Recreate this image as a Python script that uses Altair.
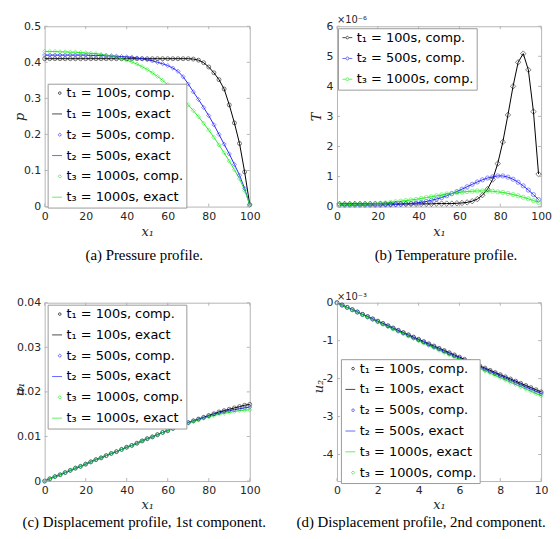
import altair as alt
import pandas as pd

# ---------------- data ----------------
XA = [0, 2.5, 5, 7.5, 10, 12.5, 15, 17.5, 20, 22.5, 25, 27.5, 30, 32.5, 35, 37.5, 40,
      42.5, 45, 47.5, 50, 52.5, 55, 57.5, 60, 62.5, 65, 67.5, 70, 72.5, 75, 77.5, 80,
      82.5, 85, 87.5, 90, 92.5, 95, 97.5, 100]

P_T1 = [0.41, 0.41, 0.41, 0.41, 0.41, 0.41, 0.41, 0.41, 0.41, 0.41, 0.41, 0.41, 0.41,
        0.41, 0.41, 0.41, 0.41, 0.41, 0.41, 0.41, 0.41, 0.41, 0.41, 0.41, 0.41, 0.41,
        0.41, 0.41, 0.41, 0.409, 0.406, 0.399, 0.387, 0.371, 0.352, 0.326, 0.282,
        0.232, 0.175, 0.096, 0.005]
P_T2 = [0.420, 0.420, 0.420, 0.420, 0.420, 0.420, 0.420, 0.420, 0.420, 0.419, 0.419,
        0.419, 0.418, 0.418, 0.417, 0.416, 0.415, 0.414, 0.412, 0.410, 0.407, 0.404,
        0.400, 0.396, 0.391, 0.384, 0.375, 0.360, 0.340, 0.318, 0.297, 0.275, 0.252,
        0.227, 0.200, 0.173, 0.146, 0.117, 0.087, 0.050, 0.005]
P_T3 = [0.430, 0.430, 0.430, 0.429, 0.429, 0.428, 0.428, 0.427, 0.426, 0.425, 0.424,
        0.422, 0.420, 0.417, 0.414, 0.410, 0.406, 0.401, 0.395, 0.388, 0.380, 0.371,
        0.361, 0.350, 0.338, 0.326, 0.312, 0.298, 0.282, 0.266, 0.249, 0.231, 0.212,
        0.192, 0.171, 0.149, 0.126, 0.102, 0.077, 0.045, 0.005]

XB = [1.25, 3.75, 6.25, 8.75, 11.25, 13.75, 16.25, 18.75, 21.25, 23.75, 26.25, 28.75,
      31.25, 33.75, 36.25, 38.75, 41.25, 43.75, 46.25, 48.75, 51.25, 53.75, 56.25, 58.75,
      61.25, 63.75, 66.25, 68.75, 71.25, 73.75, 76.25, 78.75, 81.25, 83.75, 86.25, 88.75,
      91.25, 93.75, 96.25, 98.75]
T_T1 = [0.09, 0.09, 0.09, 0.09, 0.09, 0.09, 0.09, 0.09, 0.09, 0.09, 0.09, 0.09, 0.09,
        0.09, 0.09, 0.09, 0.09, 0.09, 0.09, 0.10, 0.10, 0.10, 0.10, 0.11, 0.12, 0.14,
        0.18, 0.25, 0.38, 0.58, 0.90, 1.43, 2.15, 3.05, 4.00, 4.80, 5.09, 4.55, 3.16, 1.08]
T_T2 = [0.05, 0.05, 0.05, 0.05, 0.05, 0.05, 0.05, 0.05, 0.05, 0.06, 0.06, 0.07, 0.08,
        0.09, 0.10, 0.12, 0.14, 0.17, 0.21, 0.25, 0.30, 0.36, 0.43, 0.50, 0.58, 0.66,
        0.74, 0.82, 0.89, 0.95, 0.99, 1.02, 1.02, 0.98, 0.91, 0.81, 0.69, 0.55, 0.40, 0.23]
T_T3 = [0.07, 0.07, 0.07, 0.07, 0.08, 0.08, 0.09, 0.10, 0.11, 0.12, 0.14, 0.16, 0.18,
        0.20, 0.22, 0.24, 0.27, 0.30, 0.33, 0.36, 0.39, 0.42, 0.44, 0.46, 0.48, 0.50,
        0.51, 0.52, 0.52, 0.52, 0.51, 0.49, 0.47, 0.44, 0.40, 0.36, 0.31, 0.26, 0.20, 0.14]

U1_T1 = [0, 0.0005, 0.0010, 0.0014, 0.0019, 0.0024, 0.0029, 0.0033, 0.0038, 0.0043,
         0.0048, 0.0052, 0.0057, 0.0062, 0.0066, 0.0071, 0.0076, 0.0080, 0.0085, 0.0090,
         0.0095, 0.0099, 0.0104, 0.0109, 0.0113, 0.0118, 0.0122, 0.0127, 0.0131, 0.0135,
         0.0139, 0.0143, 0.0147, 0.0151, 0.0155, 0.0158, 0.0161, 0.0164, 0.0167, 0.0170,
         0.0172]
U1_T2 = [0, 0.0005, 0.0010, 0.0014, 0.0019, 0.0024, 0.0029, 0.0033, 0.0038, 0.0043,
         0.0048, 0.0052, 0.0057, 0.0062, 0.0066, 0.0071, 0.0076, 0.0080, 0.0085, 0.0090,
         0.0095, 0.0099, 0.0104, 0.0109, 0.0113, 0.0118, 0.0122, 0.0127, 0.0131, 0.0135,
         0.0139, 0.0142, 0.0146, 0.0150, 0.0153, 0.0156, 0.0158, 0.0160, 0.0162, 0.0164,
         0.0166]
U1_T3 = [0, 0.0005, 0.0010, 0.0014, 0.0019, 0.0024, 0.0029, 0.0033, 0.0038, 0.0043,
         0.0048, 0.0052, 0.0057, 0.0062, 0.0066, 0.0071, 0.0076, 0.0080, 0.0085, 0.0090,
         0.0095, 0.0099, 0.0104, 0.0109, 0.0113, 0.0118, 0.0122, 0.0127, 0.0130, 0.0134,
         0.0137, 0.0141, 0.0144, 0.0147, 0.0150, 0.0152, 0.0154, 0.0156, 0.0158, 0.0159,
         0.0160]

XD = [0, 0.25, 0.5, 0.75, 1, 1.25, 1.5, 1.75, 2, 2.25, 2.5, 2.75, 3, 3.25, 3.5, 3.75, 4,
      4.25, 4.5, 4.75, 5, 5.25, 5.5, 5.75, 6, 6.25, 6.5, 6.75, 7, 7.25, 7.5, 7.75, 8,
      8.25, 8.5, 8.75, 9, 9.25, 9.5, 9.75, 10]
U2_T1 = [0, -0.061, -0.122, -0.183, -0.244, -0.305, -0.365, -0.426, -0.486, -0.546,
         -0.606, -0.666, -0.726, -0.786, -0.845, -0.905, -0.964, -1.023, -1.082, -1.141,
         -1.200, -1.259, -1.317, -1.376, -1.434, -1.492, -1.550, -1.608, -1.666, -1.724,
         -1.781, -1.839, -1.896, -1.953, -2.010, -2.067, -2.124, -2.181, -2.237, -2.294,
         -2.350]
U2_T2 = [0, -0.062, -0.124, -0.186, -0.248, -0.310, -0.371, -0.433, -0.494, -0.555,
         -0.616, -0.677, -0.738, -0.799, -0.859, -0.920, -0.980, -1.040, -1.101, -1.160,
         -1.220, -1.280, -1.340, -1.399, -1.458, -1.517, -1.577, -1.635, -1.694, -1.753,
         -1.811, -1.870, -1.928, -1.986, -2.044, -2.102, -2.160, -2.218, -2.275, -2.333,
         -2.390]
U2_T3 = [0, -0.064, -0.127, -0.191, -0.254, -0.318, -0.381, -0.444, -0.507, -0.569,
         -0.632, -0.695, -0.757, -0.820, -0.881, -0.944, -1.005, -1.067, -1.129, -1.190,
         -1.252, -1.313, -1.374, -1.435, -1.496, -1.556, -1.617, -1.677, -1.738, -1.798,
         -1.858, -1.918, -1.978, -2.037, -2.097, -2.156, -2.215, -2.275, -2.333, -2.393,
         -2.451]

C1, E1 = "t₁ = 100s, comp.", "t₁ = 100s, exact"
C2, E2 = "t₂ = 500s, comp.", "t₂ = 500s, exact"
C3, E3 = "t₃ = 1000s, comp.", "t₃ = 1000s, exact"

X_TICKS_100 = [0, 20, 40, 60, 80, 100]
X_TICKS_10 = [0, 2, 4, 6, 8, 10]
Y_TICKS_A = [0, 0.1, 0.2, 0.3, 0.4, 0.5]
Y_TICKS_B = [0, 1, 2, 3, 4, 5, 6]
Y_TICKS_C = [0, 0.01, 0.02, 0.03, 0.04]
Y_TICKS_D = [-4, -3, -2, -1, 0]

CAPTIONS = ["(a) Pressure profile.", "(b) Temperature profile.",
            "(c) Displacement profile, 1st component.",
            "(d) Displacement profile, 2nd component."]
EXPONENTS = ["×10⁻⁶", "×10⁻³"]

# ---------------- style ----------------
FRAME = "#b5b5b5"
TXT = "#262626"
BLACK, BLUE, GREEN = "#000000", "#2a2aff", "#22ee22"

LINE = "M-1,0H1"
CIRC = "M0.82,0A0.27,0.27,0,1,1,0.28,0A0.27,0.27,0,1,1,0.82,0Z"
DIAM = "M0.55,-0.33L0.88,0L0.55,0.33L0.22,0Z"
LDIAM = "M-1,0H-0.32M0.32,0H1M0,-0.32L0.32,0L0,0.32L-0.32,0Z"
LCIRC = "M-1,0H-0.3M0.3,0H1M0.3,0A0.3,0.3,0,1,1,-0.3,0A0.3,0.3,0,1,1,0.3,0Z"


def long_df(x, series):
    rows = []
    for label, ys in series:
        for xi, yi in zip(x, ys):
            rows.append({"x": xi, "y": yi, "label": label})
    return pd.DataFrame(rows)


def panel(df, line_labels, point_groups, leg_labels, leg_colors, leg_paths, leg_pos,
          xdom, xticks, ydom, yticks, ytitle, ytitle_pos, W, H, caption, cap_dx,
          cap_offset, xtitle_y, exp_text=None):
    legend = alt.Legend(title=None, orient="none", legendX=leg_pos[0], legendY=leg_pos[1],
                        fillColor="white", strokeColor="#9a9a9a", padding=3,
                        labelFont="DejaVu Sans", labelFontSize=13, labelColor="black",
                        labelOffset=3, rowPadding=7, symbolSize=100,
                        symbolStrokeWidth=1, labelLimit=300)
    xs = alt.Scale(domain=xdom, nice=False, zero=False)
    ys = alt.Scale(domain=ydom, nice=False, zero=False)
    xax = alt.Axis(values=xticks, title="x₁", labelExpr="'' + datum.value",
                   titleY=xtitle_y, titleBaseline="middle", labelFlush=False)
    yax = alt.Axis(values=yticks, title=ytitle, labelExpr="'' + datum.value",
                   titleX=ytitle_pos[0], titleY=ytitle_pos[1], titleAngle=270,
                   titleAlign="center", titleBaseline="middle")
    X = alt.X("x:Q", scale=xs, axis=xax)
    Y = alt.Y("y:Q", scale=ys, axis=yax)
    C = alt.Color("label:N", scale=alt.Scale(domain=leg_labels, range=leg_colors),
                  legend=legend)
    S = alt.Shape("label:N", scale=alt.Scale(domain=leg_labels, range=leg_paths),
                  legend=legend)
    base = alt.Chart(df)
    layers = [base.transform_filter("false").mark_point(filled=False, size=100)
              .encode(x=X, y=Y, color=C, shape=S)]
    layers.append(base.transform_filter(alt.FieldOneOfPredicate(field="label", oneOf=line_labels))
                  .mark_line(strokeWidth=1).encode(x=X, y=Y, color=C))
    for labels, shape, size in point_groups:
        layers.append(base.transform_filter(alt.FieldOneOfPredicate(field="label", oneOf=labels))
                      .mark_point(shape=shape, size=size, filled=False, strokeWidth=0.6,
                                  opacity=0.85)
                      .encode(x=X, y=Y, color=C))
    xt = pd.DataFrame({"x": xticks})
    yt = pd.DataFrame({"y": yticks})
    layers += [
        alt.Chart(xt).mark_rule(color=FRAME).encode(x=X, y=alt.value(H), y2=alt.value(H - 3)),
        alt.Chart(xt).mark_rule(color=FRAME).encode(x=X, y=alt.value(0), y2=alt.value(3)),
        alt.Chart(yt).mark_rule(color=FRAME).encode(y=Y, x=alt.value(0), x2=alt.value(3)),
        alt.Chart(yt).mark_rule(color=FRAME).encode(y=Y, x=alt.value(W), x2=alt.value(W - 3)),
    ]
    if exp_text is not None:
        layers.append(alt.Chart(pd.DataFrame({"t": [exp_text]}))
                      .mark_text(align="left", baseline="bottom", font="DejaVu Sans",
                                 fontSize=10, color=TXT)
                      .encode(text="t:N", x=alt.value(0), y=alt.value(-1)))
    return alt.layer(*layers).properties(
        width=W, height=H,
        title=alt.Title(text=caption, orient="bottom", anchor="middle", frame="group",
                        dx=cap_dx, offset=cap_offset, font="Liberation Serif", fontSize=15,
                        fontWeight="normal", color="black"))


# (a) pressure
dfa = long_df(XA, [(C1, P_T1), (E1, P_T1), (C2, P_T2), (E2, P_T2), (C3, P_T3), (E3, P_T3)])
LA = [C1, E1, C2, E2, C3, E3]
pa = panel(dfa, [E1, E2, E3], [([C1], "circle", 16), ([C2, C3], "diamond", 18)],
           LA, [BLACK, BLACK, BLUE, BLUE, GREEN, GREEN], [CIRC, LINE, DIAM, LINE, DIAM, LINE],
           (3, 58), [0, 100], X_TICKS_100, [0, 0.5], Y_TICKS_A, "p", (-25, 91),
           207, 182, CAPTIONS[0], -3, 10, 25)

# (b) temperature
dfb = long_df(XB, [(C1, T_T1), (C2, T_T2), (C3, T_T3)])
LB = [C1, C2, C3]
pb = panel(dfb, LB, [([C1], "diamond", 30), ([C2, C3], "circle", 18)],
           LB, [BLACK, BLUE, GREEN], [LDIAM, LCIRC, LCIRC],
           (1, 2), [0, 100], X_TICKS_100, [0, 6], Y_TICKS_B, "T", (-21, 91),
           206, 182, CAPTIONS[1], 7, 10, 25, EXPONENTS[0])

# (c) displacement u1
dfc = long_df(XA, [(C1, U1_T1), (E1, U1_T1), (C2, U1_T2), (E2, U1_T2), (C3, U1_T3), (E3, U1_T3)])
pc = panel(dfc, [E1, E2, E3], [([C1], "circle", 16), ([C2, C3], "diamond", 18)],
           LA, [BLACK, BLACK, BLUE, BLUE, GREEN, GREEN], [CIRC, LINE, DIAM, LINE, DIAM, LINE],
           (3, 2), [0, 100], X_TICKS_100, [0, 0.04], Y_TICKS_C, "u₁", (-25, 87),
           207, 180, CAPTIONS[2], -3, 3, 24)

# (d) displacement u2
dfd = long_df(XD, [(C1, U2_T1), (E1, U2_T1), (C2, U2_T2), (E2, U2_T2), (E3, U2_T3), (C3, U2_T3)])
LD = [C1, E1, C2, E2, E3, C3]
pdd = panel(dfd, [E1, E2, E3], [([C1, C2], "circle", 16), ([C3], "diamond", 18)],
            LD, [BLACK, BLACK, BLUE, BLUE, GREEN, GREEN], [CIRC, LINE, CIRC, LINE, LINE, DIAM],
            (4, 57), [0, 10], X_TICKS_10, [-4.7, 0], Y_TICKS_D, "u₂", (-19, 84),
            206, 180, CAPTIONS[3], -18, 3, 24, EXPONENTS[1])

chart = alt.concat(pa, pb, pc, pdd, columns=2, spacing={"row": 97, "column": 88},
                   bounds="flush").resolve_scale(
    x="independent", y="independent", color="independent", shape="independent"
).resolve_legend(color="independent", shape="independent").properties(
    padding={"left": 5, "top": 4, "right": 0, "bottom": 0}
).configure_view(stroke=FRAME, strokeWidth=1).configure_axis(
    labelFont="DejaVu Sans", labelFontSize=11, labelColor=TXT, labelPadding=4,
    titleFont="DejaVu Serif", titleFontStyle="italic", titleFontWeight="normal",
    titleFontSize=13, titleColor=TXT, domain=False, ticks=False, grid=False,
    labelOverlap=False)

chart.save("out.html", embed_options={"renderer": "svg", "actions": False})
